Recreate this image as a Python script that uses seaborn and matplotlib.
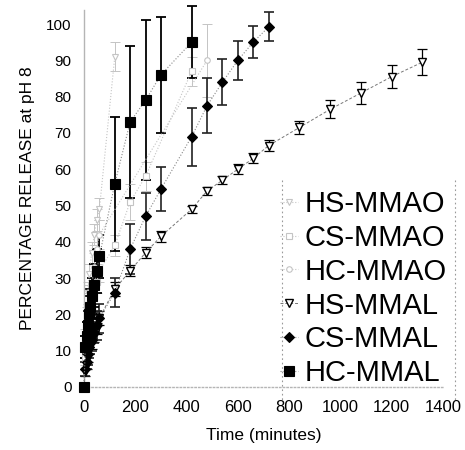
import matplotlib
matplotlib.use("Agg")
import matplotlib.pyplot as plt
from matplotlib.lines import Line2D
import seaborn as sns
import numpy as np
import pandas as pd

# ---------------- data ----------------
hs_mmao_t = [0, 5, 10, 15, 20, 30, 40, 50, 60, 120]
hs_mmao_y = [0, 14, 20, 26, 31, 37, 42, 46, 49, 91]
hs_mmao_e = [0, 2, 2, 3, 3, 3, 3, 3, 3, 4]

cs_mmao_t = [0, 5, 10, 15, 20, 30, 40, 50, 60, 120, 180, 240, 420]
cs_mmao_y = [0, 8, 12, 15, 18, 22, 26, 29, 32, 39, 51, 58, 87]
cs_mmao_e = [0, 2, 2, 2, 3, 3, 3, 3, 3, 3, 5, 4, 4]

hc_mmao_t = [0, 5, 10, 15, 20, 30, 40, 50, 60, 480]
hc_mmao_y = [0, 10, 15, 19, 23, 28, 33, 38, 42, 90]
hc_mmao_e = [0, 2, 3, 3, 3, 4, 4, 4, 4, 10]

hs_mmal_t = [0, 5, 10, 15, 20, 30, 40, 50, 60, 120, 180, 240, 300, 420, 480,
             540, 600, 660, 720, 840, 960, 1080, 1200, 1320]
hs_mmal_y = [0, 4, 6, 8, 10, 12, 14, 16, 19, 27, 32, 37, 41.5, 49, 54,
             57, 60, 63, 66.5, 71.5, 76.5, 81, 85.5, 89.5]
hs_mmal_e = [0, 1, 1, 1, 1, 1.5, 1.5, 1.5, 2, 2, 1.5, 1.5, 1.5, 1, 1.2,
             1.2, 1.3, 1.4, 1.5, 1.7, 2.5, 2.9, 3.2, 3.5]

cs_mmal_t = [0, 5, 10, 15, 20, 25, 30, 40, 50, 60, 120, 180, 240, 300,
             420, 480, 540, 600, 660, 720]
cs_mmal_y = [0, 5, 7, 9, 11, 12, 13, 15, 17, 19, 26, 38, 47, 54.5,
             69, 77.5, 84, 90, 95, 99.2]
cs_mmal_e = [0, 2, 2, 3, 3, 3, 3, 3, 4, 4, 4, 7, 6.5, 6,
             8, 7.5, 6.3, 5.4, 4.4, 4]

hc_mmal_t = [0, 5, 10, 15, 20, 25, 30, 40, 50, 60, 120, 180, 240, 300, 420]
hc_mmal_y = [0, 11, 14, 17, 20, 22, 25, 28, 32, 36, 56, 73, 79, 86, 95]
hc_mmal_e = [0, 3, 4, 4, 5, 5, 5, 6, 6, 6, 18.5, 21, 22, 16, 10]

x_ticks = [0, 200, 400, 600, 800, 1000, 1200, 1400]
y_ticks = [0, 10, 20, 30, 40, 50, 60, 70, 80, 90, 100]

# ---------------- styling ----------------
sns.set_theme(style="white")
plt.rcParams["font.family"] = ["Liberation Sans", "DejaVu Sans"]
plt.rcParams["text.color"] = "black"
plt.rcParams["axes.labelcolor"] = "black"

W, H = 465, 450
fig = plt.figure(figsize=(W / 100, H / 100), dpi=100)
ax = fig.add_axes([84 / W, (H - 387) / H, 359 / W, 377.5 / H])

light = "#c4c4c4"
series = [
    ("HS-MMAO", hs_mmao_t, hs_mmao_y, hs_mmao_e,
     dict(color=light, marker="v", ms=5, mfc="white", mec=light, ls=":", lw=0.8), light, 0.7),
    ("CS-MMAO", cs_mmao_t, cs_mmao_y, cs_mmao_e,
     dict(color=light, marker="s", ms=5, mfc="white", mec=light, ls=":", lw=0.8), light, 0.7),
    ("HC-MMAO", hc_mmao_t, hc_mmao_y, hc_mmao_e,
     dict(color=light, marker="o", ms=4, mfc="white", mec=light, ls=":", lw=0.8), light, 0.7),
    ("HS-MMAL", hs_mmal_t, hs_mmal_y, hs_mmal_e,
     dict(color="#777777", marker="v", ms=6, mfc="white", mec="black", mew=1.0,
          ls=(0, (3, 2)), lw=0.7), "black", 0.9),
    ("CS-MMAL", cs_mmal_t, cs_mmal_y, cs_mmal_e,
     dict(color="#888888", marker="D", ms=5, mfc="black", mec="black",
          ls=":", lw=0.8), "#222222", 1.2),
    ("HC-MMAL", hc_mmal_t, hc_mmal_y, hc_mmal_e,
     dict(color="#888888", marker="s", ms=7.5, mfc="black", mec="black",
          ls=":", lw=0.8), "black", 1.3),
]

for name, t, y, e, kw, ecol, elw in series:
    ax.errorbar(t, y, yerr=e, fmt="none", ecolor=ecol, elinewidth=elw,
                capsize=3.4, capthick=elw, zorder=2, clip_on=False)

for name, t, y, e, kw, ecol, elw in series:
    df = pd.DataFrame({"t": t, "y": y})
    kw = dict(kw)
    color = kw.pop("color")
    marker = kw.pop("marker")
    ms = kw.pop("ms")
    mfc = kw.pop("mfc")
    mec = kw.pop("mec")
    mew = kw.pop("mew", 0.8)
    ls = kw.pop("ls")
    lw = kw.pop("lw")
    sns.lineplot(data=df, x="t", y="y", ax=ax, estimator=None, sort=False,
                 color=color, marker=marker, markersize=ms,
                 markerfacecolor=mfc, markeredgecolor=mec, markeredgewidth=mew,
                 linestyle=ls, linewidth=lw, label=name, zorder=3, clip_on=False)

ax.set_xlim(0, 1400)
ax.set_ylim(0, 104)
ax.set_xticks(x_ticks)
ax.set_yticks(y_ticks)
ax.set_xticklabels([str(v) for v in x_ticks], fontsize=12)
ax.set_yticklabels([str(v) for v in y_ticks], fontsize=11)
ax.tick_params(axis="x", direction="in", length=3, color="#aaaaaa", pad=9,
               labelcolor="black")
ax.tick_params(axis="y", length=0, pad=9, labelcolor="black")
ax.set_xlabel("Time (minutes)", fontsize=12.5, labelpad=10)
ax.set_ylabel("PERCENTAGE RELEASE at pH 8", fontsize=12.5, labelpad=8)

for side in ["top", "right"]:
    ax.spines[side].set_visible(False)
ax.spines["left"].set_color("#b5b5b5")
ax.spines["left"].set_linewidth(1.0)
ax.spines["bottom"].set_color("#b5b5b5")
ax.spines["bottom"].set_linestyle(":")
ax.spines["bottom"].set_linewidth(1.0)
ax.grid(False)

handles, labels = ax.get_legend_handles_labels()
leg = ax.legend(handles, labels, loc="upper left",
                bbox_to_anchor=(280 / W, 1 - 190 / H),
                bbox_transform=fig.transFigure, frameon=False,
                fontsize=21, handlelength=0.6, handletextpad=0.25,
                labelspacing=0.2, borderpad=0, borderaxespad=0)
for txt in leg.get_texts():
    txt.set_color("black")

# dotted legend box sides
for xp in (282, 455):
    fig.add_artist(Line2D([xp / W, xp / W], [1 - 180 / H, 1 - 402 / H],
                          transform=fig.transFigure, color="#999999",
                          ls=(0, (1.5, 2.5)), lw=0.8))

fig.savefig("out.png", dpi=100)
